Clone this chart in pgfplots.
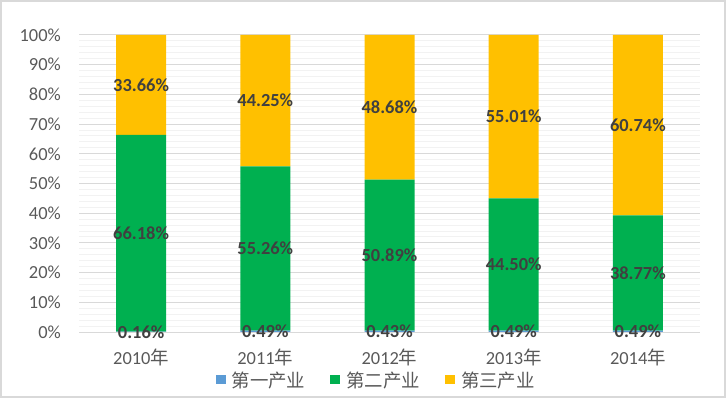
\documentclass[border=0pt]{standalone}
\usepackage{pgfplots}
\usepackage{pgfplotstable}
\pgfplotsset{compat=1.18}
\usepackage{fontspec}
\setmainfont{Carlito}
\newfontfamily\cjk{Noto Sans CJK SC}
\definecolor{cA}{HTML}{5B9BD5}
\definecolor{cB}{HTML}{00B050}
\definecolor{cC}{HTML}{FFC000}
\definecolor{labc}{HTML}{404040}
\definecolor{tickc}{HTML}{595959}
\definecolor{gridc}{HTML}{D9D9D9}
\definecolor{mgridc}{HTML}{F2F2F2}
\pgfplotstableread{
x a b c
0 0.16 66.18 33.66
1 0.49 55.26 44.25
2 0.43 50.89 48.68
3 0.49 44.50 55.01
4 0.49 38.77 60.74
}\datatable
\begin{document}
\begin{tikzpicture}
\useasboundingbox (0,0) rectangle (726bp,398bp);
\draw[gridc, line width=2bp] (1bp,1bp) rectangle (725bp,397bp);
\begin{axis}[
  at={(79bp,66bp)}, anchor=south west,
  scale only axis, width=621bp, height=297bp,
  ybar stacked, bar width=50bp,
  xmin=-0.5, xmax=4.5, ymin=0, ymax=100,
  xtick=data,
  xticklabels={2010{\cjk 年},2011{\cjk 年},2012{\cjk 年},2013{\cjk 年},2014{\cjk 年}},
  ytick={0,10,...,100},
  yticklabel={\pgfmathprintnumber{\tick}\%},
  scaled y ticks=false,
  /pgf/number format/assume math mode=true,
  minor y tick num=4,
  ymajorgrids, yminorgrids,
  major grid style={gridc, line width=1bp},
  minor grid style={mgridc, line width=1bp},
  axis line style={draw=none},
  major tick length=0pt, minor tick length=0pt,
  tick label style={font=\fontsize{18.5}{20}\selectfont, text=tickc},
  yticklabel style={anchor=east, inner sep=0pt, xshift=-18bp},
  xticklabel style={anchor=center, inner sep=0pt, yshift=-25bp},
  legend style={at={(rel axis cs:0.477,-0.1616)}, anchor=center, draw=none, fill=none,
    legend columns=3, font=\fontsize{18.5}{20}\selectfont, text=tickc,
    nodes={inner sep=0pt},
    /tikz/every odd column/.append style={column sep=6bp},
    /tikz/every even column/.append style={column sep=25bp}},
  legend image code/.code={\fill[#1] (0bp,-4.5bp) rectangle (10bp,5bp);},
  nodes near coords={\pgfmathprintnumber[fixed,fixed zerofill,precision=2]{\pgfplotspointmeta}\%},
  every node near coord/.append style={anchor=center, inner sep=0pt,
      font=\fontsize{18.5}{20}\selectfont\bfseries, text=labc},
]
\addplot[fill=cA, draw=none] table[x=x, y=a] {\datatable};
\addlegendentry{\cjk 第一产业}
\addplot[fill=cB, draw=none] table[x=x, y=b] {\datatable};
\addlegendentry{\cjk 第二产业}
\addplot[fill=cC, draw=none] table[x=x, y=c] {\datatable};
\addlegendentry{\cjk 第三产业}
\end{axis}
\end{tikzpicture}
\end{document}
